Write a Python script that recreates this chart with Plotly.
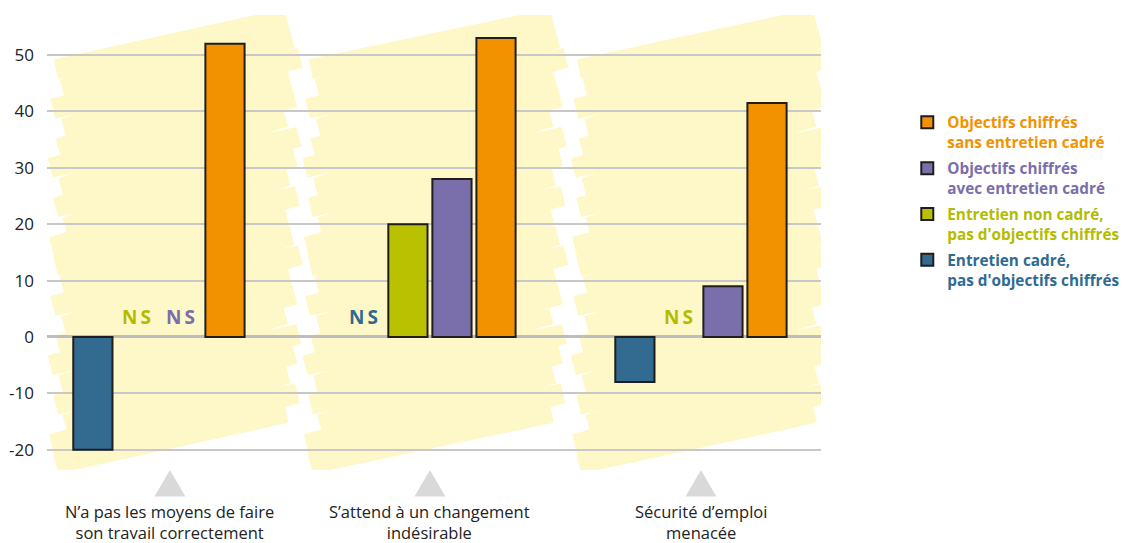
import plotly.graph_objects as go

# ---------------- data ----------------
categories = ["N’a pas les moyens de faire<br>son travail correctement",
              "S’attend à un changement<br>indésirable",
              "Sécurité d’emploi<br>menacée"]
series_names = ["Entretien cadré,<br>pas d'objectifs chiffrés",
                "Entretien non cadré,<br>pas d'objectifs chiffrés",
                "Objectifs chiffrés<br>avec entretien cadré",
                "Objectifs chiffrés<br>sans entretien cadré"]
blue_vals = [-20, None, -8]       # Entretien cadré, pas d'objectifs chiffrés
green_vals = [None, 20, None]     # Entretien non cadré, pas d'objectifs chiffrés
purple_vals = [None, 28, 9]       # Objectifs chiffrés avec entretien cadré
orange_vals = [52, 53, 41.5]      # Objectifs chiffrés sans entretien cadré
y_ticks = [-20, -10, 0, 10, 20, 30, 40, 50]
y_tick_text = [str(v) for v in y_ticks]

series_vals = [blue_vals, green_vals, purple_vals, orange_vals]
bar_colors = ["#336a8f", "#bac200", "#7a6eab", "#f39200"]
text_colors = ["#2f6a91", "#b3bc00", "#7a6eab", "#f39200"]
legend_rank = [4, 3, 2, 1]

x_pos = list(range(len(categories)))

fig = go.Figure()

BARGAP = 0.35
GROUPGAP = 0.11
n_series = len(series_vals)
slot = (1 - BARGAP) / n_series

for i, (name, vals) in enumerate(zip(series_names, series_vals)):
    lines = name.split("<br>")
    label = "<br>".join(
        f"<span style='color:{text_colors[i]}'><b>{ln}</b></span>" for ln in lines)
    fig.add_trace(go.Bar(
        x=x_pos, y=vals, name=label,
        marker=dict(color=bar_colors[i], line=dict(color="#1e1e1e", width=2)),
        legendgroup=f"g{i}", legendrank=legend_rank[i],
        hoverinfo="y",
    ))

# "NS" labels where a value is missing
for i, vals in enumerate(series_vals):
    for j, v in enumerate(vals):
        if v is None:
            xc = x_pos[j] - (1 - BARGAP) / 2 + slot * (i + 0.5)
            fig.add_annotation(x=xc, y=0, text="<b>N\u2009S</b>", showarrow=False,
                               yanchor="bottom", yshift=5,
                               font=dict(family="Open Sans", size=19, color=text_colors[i]))

# ---------------- decoration: yellow scribbles ----------------
panel_centers = [0.06, 1.02, 2.0]
panel_half = [0.44, 0.46, 0.45]
wob = [0.0, 0.025, -0.01, 0.03, 0.01, -0.02, 0.02, 0.0, 0.035, -0.015]


def scribble(xc, hw, y_top, y_bot, step, rise):
    pts = []
    y = y_top
    k = 0
    while y - rise > y_bot:
        xl = xc - hw + wob[k % len(wob)]
        xr = xc + hw - wob[(k + 3) % len(wob)]
        pts.append((xl, y - rise))
        pts.append((xr, y))
        y -= step
        k += 1
    return "M" + " L".join(f"{px:.4f},{py:.3f}" for px, py in pts)


for c, hw in zip(panel_centers, panel_half):
    fig.add_shape(type="path", path=scribble(c, hw, 56.5, -23.5, 3.5, 9.0),
                  xref="x", yref="y", layer="below",
                  line=dict(color="#fef8c8", width=20),
                  fillcolor="rgba(0,0,0,0)")

# ---------------- category labels & triangles ----------------
label_shift_px = [11, 0, 0]
px_per_unit = 271.0
for j, cat in enumerate(categories):
    xc = x_pos[j] + label_shift_px[j] / px_per_unit
    fig.add_shape(type="path",
                  path=f"M{xc - 0.057},-0.058 L{xc + 0.057},-0.058 L{xc},0.0 Z",
                  xref="x", yref="paper", fillcolor="#d9d9d9",
                  line=dict(width=0), layer="above")
    fig.add_annotation(x=xc, y=-0.0615, xref="x", yref="paper", text=cat,
                       showarrow=False, yanchor="top", align="center",
                       font=dict(family="Open Sans", size=16.5, color="#222222"))

fig.update_layout(
    width=1122, height=535,
    margin=dict(l=39, r=309, t=7, b=73, autoexpand=False),
    paper_bgcolor="white", plot_bgcolor="white",
    barmode="group", bargap=BARGAP, bargroupgap=GROUPGAP,
    showlegend=True,
    legend=dict(xref="container", yref="container", x=0.8015, y=0.817,
                xanchor="left", yanchor="top",
                traceorder="grouped", tracegroupgap=3, valign="top",
                font=dict(family="Open Sans", size=15.3),
                bgcolor="rgba(0,0,0,0)"),
    xaxis=dict(range=[-0.413, 2.443], showgrid=False, showticklabels=False,
               zeroline=False, showline=False, ticks="", automargin=False),
    yaxis=dict(range=[-23.6, 57.1], tickvals=y_ticks, ticktext=y_tick_text,
               showgrid=True, automargin=False,
               gridcolor="#c8c8c8", gridwidth=2, zeroline=True,
               zerolinecolor="#bdbdbd", zerolinewidth=2.5, showline=False,
               ticks="", ticklabelstandoff=12,
               tickfont=dict(family="Open Sans", size=17, color="#222222")),
)

fig.write_html("out.html")
